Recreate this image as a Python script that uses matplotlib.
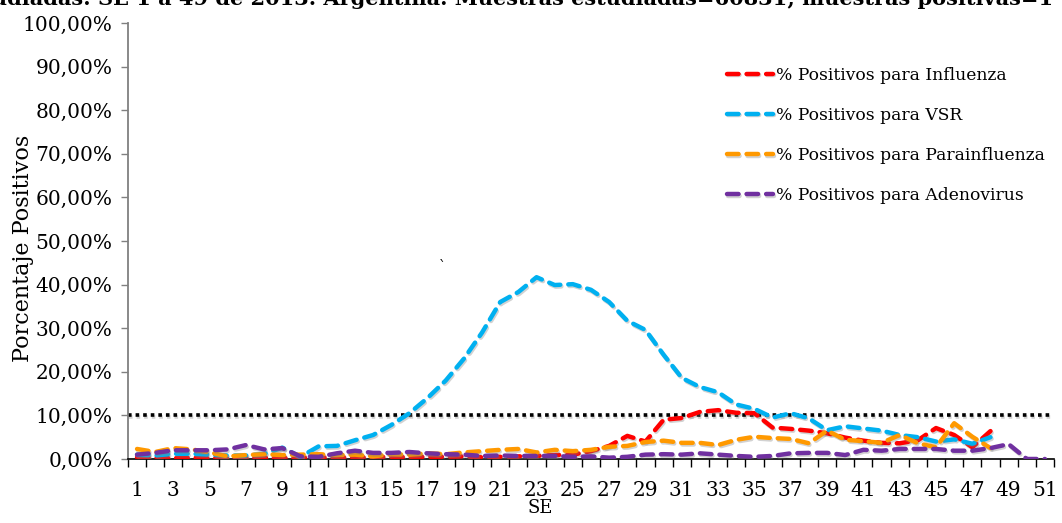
import matplotlib
matplotlib.use("Agg")
import matplotlib.pyplot as plt
import matplotlib.patheffects as pe
from matplotlib.ticker import FuncFormatter, MultipleLocator, FixedLocator

# ---------------- data ----------------
weeks = list(range(1, 52))

influenza = [0.4, 0.3, 0.2, 0.3, 0.2, 0.2, 0.3, 0.3, 0.2, 0.3,
             0.3, 0.4, 0.3, 0.4, 0.5, 0.4, 0.5, 0.5, 0.6, 0.4,
             0.5, 0.6, 0.7, 0.9, 1.0, 1.8, 3.0, 5.3, 4.0, 9.0,
             9.4, 10.8, 11.2, 10.6, 10.5, 7.2, 6.9, 6.5, 5.9, 4.9,
             4.2, 3.7, 3.6, 4.3, 7.1, 5.5, 2.7, 6.4]

vsr = [1.0, 0.8, 1.2, 1.2, 1.0, 0.8, 0.8, 1.2, 2.6, 0.5,
       2.9, 3.0, 4.3, 5.5, 7.8, 10.5, 14.0, 18.0, 23.0, 29.0,
       36.0, 38.3, 41.7, 39.9, 40.1, 38.8, 36.0, 31.7, 29.6, 23.9,
       18.6, 16.5, 15.3, 12.5, 11.5, 9.5, 10.5, 9.3, 6.6, 7.5,
       7.0, 6.5, 5.5, 5.0, 4.0, 4.5, 3.5, 5.0]

parainfluenza = [2.3, 1.6, 2.5, 2.2, 1.5, 0.6, 0.9, 1.1, 0.9, 1.0,
                 1.1, 0.9, 1.0, 0.6, 1.1, 1.0, 1.3, 1.1, 1.5, 1.8,
                 2.1, 2.3, 1.5, 2.1, 1.8, 2.1, 2.8, 3.0, 3.9, 4.2,
                 3.7, 3.7, 3.2, 4.4, 5.1, 4.8, 4.6, 3.6, 6.5, 4.4,
                 4.1, 3.7, 5.5, 3.6, 2.7, 8.2, 5.1, 2.5]

adenovirus = [1.0, 1.4, 2.0, 2.0, 2.0, 2.2, 3.2, 2.2, 2.5, 0.6,
              0.5, 1.3, 1.9, 1.4, 1.4, 1.6, 1.3, 1.1, 1.0, 0.7,
              0.8, 0.7, 0.7, 0.7, 0.5, 0.6, 0.3, 0.5, 1.0, 1.1,
              1.0, 1.3, 1.0, 0.7, 0.5, 0.7, 1.3, 1.4, 1.4, 0.9,
              2.1, 1.9, 2.3, 2.3, 2.3, 1.9, 1.9, 2.5, 3.4, 0.0,
              0.0]

threshold = 10.0

series = [
    ("% Positivos para Influenza", influenza, "#ff0000"),
    ("% Positivos para VSR", vsr, "#00b0f0"),
    ("% Positivos para Parainfluenza", parainfluenza, "#ff9900"),
    ("% Positivos para Adenovirus", adenovirus, "#7030a0"),
]

title_text = ("udiadas: SE 1 a 49 de 2013. Argentina. Muestras estudiadas=60831; "
              "muestras positivas=1")

# ---------------- figure ----------------
plt.rcParams['font.family'] = ['DejaVu Serif']

fig = plt.figure(figsize=(10.62, 5.23), dpi=100)
ax = fig.add_axes([0.1205, 0.1224, 0.8720, 0.8336])

shadow = [pe.SimpleLineShadow(offset=(0.8, -1.2), shadow_color='gray', alpha=0.35),
          pe.Normal()]

# threshold dotted line
ax.plot([0.5, 51.4], [threshold, threshold], color='black', lw=2.6,
        linestyle=(0, (1, 1.1)), dash_capstyle='butt', path_effects=shadow, zorder=2)

for name, vals, col in series:
    x = weeks[:len(vals)]
    ax.plot(x, vals, color=col, lw=3.2, linestyle=(0, (2.6, 1.8)),
            dash_capstyle='round', solid_joinstyle='round',
            label=name, path_effects=shadow, zorder=3)

ax.set_xlim(0.5, 51.5)
ax.set_ylim(0, 100)

ax.yaxis.set_major_locator(MultipleLocator(10))
ax.yaxis.set_major_formatter(FuncFormatter(lambda v, p: f"{v:.2f}%".replace('.', ',')))
ax.set_xticks(weeks[::2])
ax.set_xticklabels([str(w) for w in weeks[::2]])
ax.xaxis.set_minor_locator(FixedLocator([w + 0.5 for w in range(0, 52)]))
ax.tick_params(axis='x', which='major', length=0, labelsize=14.5, pad=16)
ax.tick_params(axis='x', which='minor', length=6, width=1, color='black')
ax.tick_params(axis='y', which='major', length=5, width=1, color='#808080',
               labelsize=14.5, pad=6)

for s in ['top', 'right']:
    ax.spines[s].set_visible(False)
ax.spines['left'].set_color('#808080')
ax.spines['left'].set_linewidth(1.3)
ax.spines['bottom'].set_color('black')
ax.spines['bottom'].set_linewidth(1.2)

ax.set_ylabel("Porcentaje Positivos", fontsize=16, labelpad=0)
ax.yaxis.set_label_coords(-0.102, 0.484)
ax.set_xlabel("SE", fontsize=13, labelpad=0)
ax.xaxis.set_label_coords(0.445, -0.092)

leg = ax.legend(loc='upper left', bbox_to_anchor=(0.630, 0.935), frameon=False,
                fontsize=12.3, handlelength=2.7, handletextpad=0.2,
                labelspacing=1.35)

# stray mark visible in the source image
ax.text(17.8, 44.0, "`", fontsize=10, ha='center', va='center')

fig.text(-0.008, 0.9905, title_text, ha='left', va='baseline',
         fontsize=15, fontweight='bold')

fig.savefig("out.png", dpi=100)
